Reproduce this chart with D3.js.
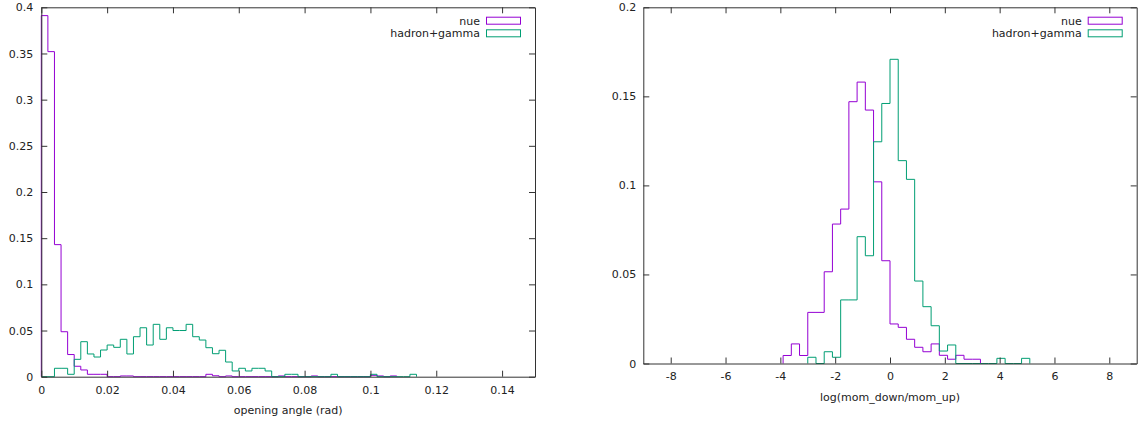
<!DOCTYPE html>
<html>
<head>
<meta charset="utf-8">
<script src="https://cdn.jsdelivr.net/npm/d3@7"></script>
<style>
  html, body { margin: 0; padding: 0; background: #ffffff; }
  svg { display: block; }
  .axis text { font-family: "DejaVu Sans", sans-serif; font-size: 11px; fill: #222; }
</style>
</head>
<body>
<div id="chart"></div>
<script>
// Opening angle histogram, bins of 0.002 rad starting at 0
const angleBinWidth = 0.002;
const nueAngle = [
  0.391, 0.352, 0.143, 0.0487, 0.024, 0.0113, 0.0073, 0.0026, 0.0026, 0.0026,
  0, 0, 0.0008, 0.0008, 0, 0, 0, 0, 0, 0,
  0, 0, 0, 0, 0, 0.0026, 0.001, 0, 0.0008, 0,
  0, 0, 0, 0, 0, 0, 0.0008, 0, 0, 0,
  0, 0.0008, 0, 0, 0, 0, 0, 0, 0, 0,
  0.0015, 0.0008, 0, 0.0008
];
const hadronAngle = [
  0, 0, 0.0091, 0.0091, 0.0026, 0.0188, 0.0379, 0.0246, 0.0213, 0.0289,
  0.0343, 0.0318, 0.0405, 0.0246, 0.0433, 0.053, 0.0343, 0.0567, 0.0405, 0.053,
  0.05, 0.05, 0.0567, 0.0433, 0.0397, 0.0314, 0.0249, 0.0286, 0.0159, 0.0062,
  0.0091, 0.0062, 0.0091, 0.0091, 0.0062, 0, 0, 0.0026, 0.0026, 0,
  0, 0, 0, 0, 0.0026, 0, 0, 0, 0, 0,
  0.0026, 0, 0, 0, 0, 0, 0.0026
];

// log(mom_down/mom_up) histogram, bins of 0.3, first bin index given per series
const logBinWidth = 0.3;
const nueLogFirstBin = -13;
const nueLog = [
  0.0045, 0.011, 0.0045, 0.0287, 0.0287, 0.0515, 0.0783, 0.0867, 0.147, 0.158,
  0.1423, 0.102, 0.0577, 0.0222, 0.0203, 0.0136, 0.0091, 0.0066, 0.011, 0.0046,
  0.0024, 0.0046, 0.0024, 0.0024
];
const hadronLogFirstBin = -10;
const hadronLog = [
  0.0035, 0, 0.0066, 0.0035, 0.0357, 0.0357, 0.0712, 0.0605, 0.1245, 0.146,
  0.1708, 0.1139, 0.1034, 0.0463, 0.0319, 0.0212, 0.007, 0.0104, 0, 0,
  0, 0, 0, 0.0029, 0, 0, 0.0029
];

// Tick values
const angleTicks = [0, 0.02, 0.04, 0.06, 0.08, 0.1, 0.12, 0.14];
const angleFracTicks = [0, 0.05, 0.1, 0.15, 0.2, 0.25, 0.3, 0.35, 0.4];
const logTicks = [-8, -6, -4, -2, 0, 2, 4, 6, 8];
const logFracTicks = [0, 0.05, 0.1, 0.15, 0.2];

const seriesNames = ["nue", "hadron+gamma"];

const config = {
  width: 1140,
  height: 426,
  colors: { nue: "#9400d3", hadron: "#009e73", border: "#333333" },
  tickLen: 6
};

const svg = d3.select("#chart").append("svg")
  .attr("width", config.width)
  .attr("height", config.height)
  .style("background", "#ffffff");

function toBins(values, firstBin, width) {
  return values.map((v, i) => ({ x0: (firstBin + i) * width, x1: (firstBin + i + 1) * width, v }));
}

const panels = [
  {
    xRange: [41.3, 535], yRange: [376.7, 7.3],
    xDomain: [0, 0.15], yDomain: [0, 0.4],
    xTicks: angleTicks, yTicks: angleFracTicks,
    xPad: 10, yPad: 8, labelY: 410,
    xLabel: "opening angle (rad)",
    series: [
      { name: seriesNames[0], color: config.colors.nue, bins: toBins(nueAngle, 0, angleBinWidth) },
      { name: seriesNames[1], color: config.colors.hadron, bins: toBins(hadronAngle, 0, angleBinWidth) }
    ]
  },
  {
    xRange: [643.3, 1136.7], yRange: [363.5, 7.3],
    xDomain: [-9, 9], yDomain: [0, 0.2],
    xTicks: logTicks, yTicks: logFracTicks,
    xPad: 9, yPad: 7, labelY: 396.7,
    xLabel: "log(mom_down/mom_up)",
    series: [
      { name: seriesNames[0], color: config.colors.nue, bins: toBins(nueLog, nueLogFirstBin, logBinWidth) },
      { name: seriesNames[1], color: config.colors.hadron, bins: toBins(hadronLog, hadronLogFirstBin, logBinWidth) }
    ]
  }
];

panels.forEach(p => {
  const x = d3.scaleLinear().domain(p.xDomain).range(p.xRange);
  const y = d3.scaleLinear().domain(p.yDomain).range(p.yRange);
  const g = svg.append("g");

  // Histogram outlines (steps)
  const line = d3.line()
    .x(d => x(d[0]))
    .y(d => y(d[1]))
    .curve(d3.curveStepAfter);

  p.series.forEach(s => {
    const pts = [[s.bins[0].x0, 0]];
    s.bins.forEach(b => pts.push([b.x0, b.v]));
    pts.push([s.bins[s.bins.length - 1].x1, 0]);
    g.append("path")
      .attr("d", line(pts))
      .attr("fill", "none")
      .attr("stroke", s.color)
      .attr("stroke-width", 1);
  });

  // Axes with inward ticks on all four sides
  const fmt = d => String(d);
  const bottom = g.append("g").attr("class", "axis")
    .attr("transform", `translate(0,${p.yRange[0]})`)
    .call(d3.axisBottom(x).tickValues(p.xTicks).tickFormat(fmt)
      .tickSizeInner(-config.tickLen).tickSizeOuter(0).tickPadding(p.xPad));
  const top = g.append("g").attr("class", "axis")
    .attr("transform", `translate(0,${p.yRange[1]})`)
    .call(d3.axisTop(x).tickValues(p.xTicks).tickFormat("")
      .tickSizeInner(-config.tickLen).tickSizeOuter(0));
  const left = g.append("g").attr("class", "axis")
    .attr("transform", `translate(${p.xRange[0]},0)`)
    .call(d3.axisLeft(y).tickValues(p.yTicks).tickFormat(fmt)
      .tickSizeInner(-config.tickLen).tickSizeOuter(0).tickPadding(p.yPad));
  const right = g.append("g").attr("class", "axis")
    .attr("transform", `translate(${p.xRange[1]},0)`)
    .call(d3.axisRight(y).tickValues(p.yTicks).tickFormat("")
      .tickSizeInner(-config.tickLen).tickSizeOuter(0));

  [bottom, top, left, right].forEach(a => {
    a.select(".domain").attr("stroke", config.colors.border);
    a.selectAll(".tick line").attr("stroke", config.colors.border);
  });

  // Axis label
  g.append("text")
    .attr("x", (p.xRange[0] + p.xRange[1]) / 2)
    .attr("y", p.labelY)
    .attr("dy", "0.35em")
    .attr("text-anchor", "middle")
    .style("font-family", "'DejaVu Sans', sans-serif")
    .style("font-size", "11px")
    .style("fill", "#222")
    .text(p.xLabel);

  // Legend
  const legend = g.append("g")
    .attr("transform", `translate(${p.xRange[1]},0)`);
  p.series.forEach((s, i) => {
    const row = legend.append("g").attr("transform", `translate(0,${20.7 + i * 12.6})`);
    row.append("text")
      .attr("x", -55)
      .attr("dy", "0.35em")
      .attr("text-anchor", "end")
      .style("font-family", "'DejaVu Sans', sans-serif")
      .style("font-size", "11px")
      .style("fill", "#222")
      .text(s.name);
    row.append("rect")
      .attr("x", -48.5)
      .attr("y", -3.5)
      .attr("width", 34)
      .attr("height", 7)
      .attr("fill", "none")
      .attr("stroke", s.color)
      .attr("stroke-width", 1);
  });
});
</script>
</body>
</html>
